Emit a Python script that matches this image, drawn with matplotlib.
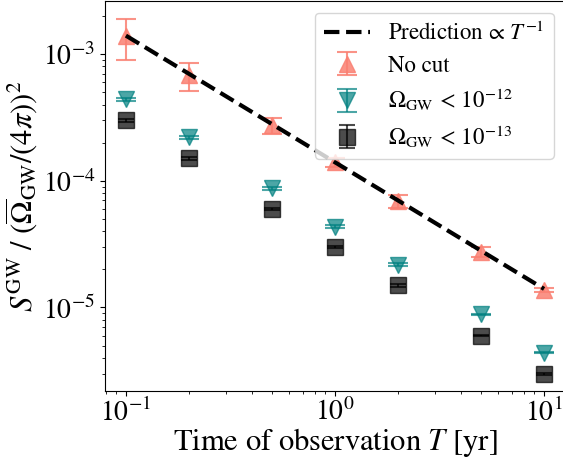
import matplotlib
matplotlib.use("Agg")
import matplotlib.pyplot as plt
import numpy as np

plt.rcParams["font.family"] = ["STIXGeneral", "DejaVu Serif"]
plt.rcParams["mathtext.fontset"] = "stix"

# observation times [yr]
T_obs = np.array([0.1, 0.2, 0.5, 1.0, 2.0, 5.0, 10.0])

# no cut
nocut = np.array([1.4e-3, 6.8e-4, 2.75e-4, 1.4e-4, 6.9e-5, 2.76e-5, 1.38e-5])
nocut_err = np.array([5.0e-4, 1.7e-4, 4.0e-5, 1.2e-5, 8.0e-6, 2.4e-6, 5.0e-7])

# Omega_GW < 1e-12
cut12 = np.array([4.4e-4, 2.2e-4, 8.7e-5, 4.35e-5, 2.17e-5, 8.8e-6, 4.4e-6])
cut12_err = np.array([1.2e-5, 7.0e-6, 2.0e-6, 1.0e-6, 6.0e-7, 1.0e-7, 5.0e-8])

# Omega_GW < 1e-13
cut13 = np.array([3.0e-4, 1.5e-4, 6.0e-5, 3.0e-5, 1.5e-5, 6.0e-6, 3.0e-6])
cut13_err = np.array([1.0e-5, 5.0e-6, 1.5e-6, 8.0e-7, 4.0e-7, 1.0e-7, 5.0e-8])

# prediction proportional to 1/T
pred = np.array([1.4e-3, 7.0e-4, 2.8e-4, 1.4e-4, 7.0e-5, 2.8e-5, 1.4e-5])

fig = plt.figure(figsize=(5.63, 4.62), dpi=100)
ax = fig.add_axes([0.1865, 0.1537, 0.817, 0.844])

ax.plot(T_obs, pred, color="black", linestyle="--", linewidth=3,
        label=r"Prediction$\,\propto\,T^{-1}$", zorder=5)
ax.errorbar(T_obs, nocut, yerr=nocut_err, fmt="^", color="salmon", markersize=12, alpha=0.85,
            capsize=7, elinewidth=1.5, capthick=1.5, label="No cut")
ax.errorbar(T_obs, cut12, yerr=cut12_err, fmt="v", color="teal", markersize=12, alpha=0.7,
            capsize=7, elinewidth=1.5, capthick=1.5, label=r"$\Omega_{\rm GW}\,<\,10^{-12}$")
ax.errorbar(T_obs, cut13, yerr=cut13_err, fmt="s", color="black", markersize=11, alpha=0.7,
            capsize=6, elinewidth=1.5, capthick=1.5, label=r"$\Omega_{\rm GW}\,<\,10^{-13}$")

ax.set_xscale("log")
ax.set_yscale("log")
ax.set_xlim(10 ** -1.1, 10 ** 1.1)
ax.set_ylim(10 ** -5.66, 10 ** -2.581)
ax.tick_params(labelsize=20)
ax.tick_params(axis="x", pad=2)
ax.set_xlabel(r"Time of observation $T$ [yr]", fontsize=22, labelpad=-1)
ax.set_ylabel(r"$S^{\rm GW}~/~(\overline{\Omega}_{\rm GW}/(4\pi))^2$", fontsize=22, labelpad=2)
ax.legend(loc="upper right", fontsize=16.5, labelspacing=0.45)

fig.savefig("out.png", dpi=100)
